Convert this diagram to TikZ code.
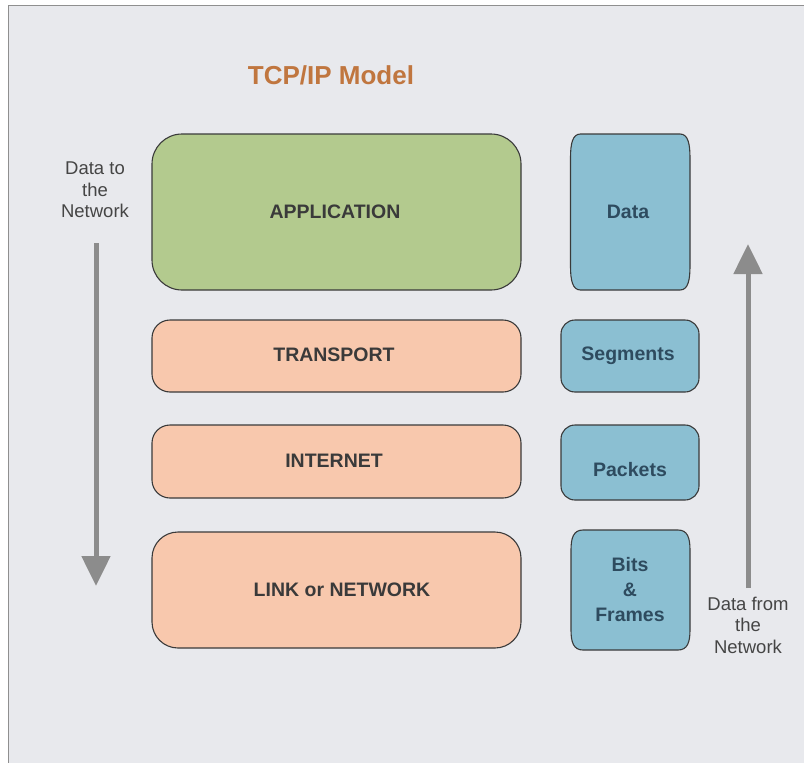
\documentclass[tikz,border=0pt]{standalone}
\usepackage{fontspec}
\setmainfont{Liberation Sans}
\usetikzlibrary{arrows.meta}
\definecolor{panelbg}{HTML}{E8E9ED}
\definecolor{panelrule}{HTML}{8F8F8F}
\definecolor{titlecol}{HTML}{C0763F}
\definecolor{appgreen}{HTML}{B3CA8E}
\definecolor{layersalmon}{HTML}{F8C8AD}
\definecolor{unitblue}{HTML}{8BBFD2}
\definecolor{unittext}{HTML}{2E4B5F}
\definecolor{edgecol}{HTML}{3A3A3A}
\definecolor{arrowgray}{HTML}{8C8C8C}
\definecolor{notetext}{HTML}{454545}
\tikzset{
  layerbox/.style={draw=edgecol, line width=1.1pt, rounded corners=#1},
  layertext/.style={font=\fontsize{19.5}{22}\selectfont\bfseries, text=edgecol},
  unitbox/.style={draw=edgecol, line width=1.1pt, fill=unitblue},
  unittext/.style={font=\fontsize{19.5}{25}\selectfont\bfseries, text=unittext, align=center},
  note/.style={font=\fontsize{18.5}{21.5}\selectfont, text=notetext, align=center},
  flow/.style={draw=arrowgray, line width=5pt,
    -{Triangle[width=28pt,length=30pt]}},
}
% box with slightly bowed sides: corners of horizontal radius #5, vertical radius #6
\newcommand\barrelbox[6]{%
  \path[unitbox] (#1+#5,#2) -- (#3-#5,#2)
    .. controls (#3-0.2*#5,#2) and (#3,#2+0.4*#6) .. (#3,#2+#6)
    -- (#3,#4-#6)
    .. controls (#3,#4-0.4*#6) and (#3-0.2*#5,#4) .. (#3-#5,#4)
    -- (#1+#5,#4)
    .. controls (#1+0.2*#5,#4) and (#1,#4-0.4*#6) .. (#1,#4-#6)
    -- (#1,#2+#6)
    .. controls (#1,#2+0.4*#6) and (#1+0.2*#5,#2) .. (#1+#5,#2) -- cycle;}
\begin{document}
\begin{tikzpicture}[x=1pt,y=-1pt]
  \useasboundingbox (0,0) rectangle (804,763);
  % panel
  \fill[white] (0,0) rectangle (804,763);
  \fill[panelbg] (8.5,5.5) rectangle (804,763);
  \draw[panelrule, line width=1.6pt] (8.5,763) -- (8.5,5.5) -- (804,5.5);

  % title
  \node[font=\fontsize{26}{30}\selectfont\bfseries, text=titlecol] (title) at (331,75) {TCP/IP Model};

  % protocol layers
  \path[layerbox=30pt, fill=appgreen] (152,134) rectangle (521,290);
  \node[layertext] (app) at (335,212) {APPLICATION};
  \path[layerbox=18pt, fill=layersalmon] (152,320) rectangle (521,392);
  \node[layertext] (trans) at (334,355) {TRANSPORT};
  \path[layerbox=18pt, fill=layersalmon] (152,425) rectangle (521,498);
  \node[layertext] (inet) at (334,461) {INTERNET};
  \path[layerbox=26pt, fill=layersalmon] (152,532) rectangle (521,648);
  \node[layertext] (link) at (342,590) {LINK or NETWORK};

  % data units
  \barrelbox{570.5}{134}{690}{290}{10}{24}
  \node[unittext] (data) at (628,212) {Data};
  \path[unitbox, rounded corners=14pt] (561,320) rectangle (699,392);
  \node[unittext] (seg) at (628,356) {Segments};
  \path[unitbox, rounded corners=14pt] (561,425) rectangle (699,500);
  \node[unittext] (pkt) at (630,470) {Packets};
  \barrelbox{571}{530}{690}{650}{12}{20}
  \node[unittext] (bits) at (630,590) {Bits\\\&\\Frames};

  % direction notes and arrows
  \node[note] (down) at (95,190) {Data to\\the\\Network};
  \node[note] (up) at (748,625) {Data from\\the\\Network};
  \coordinate (downstart) at (96,243);
  \coordinate (downend) at (96,586);
  \coordinate (upstart) at (748,588);
  \coordinate (upend) at (748,244);
  \draw[flow] (downstart) -- (downend);
  \draw[flow] (upstart) -- (upend);
\end{tikzpicture}
\end{document}
